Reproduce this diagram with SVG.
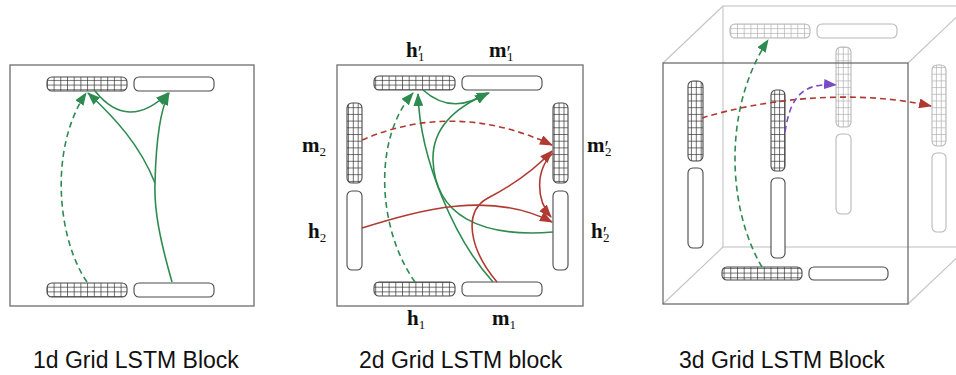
<svg xmlns="http://www.w3.org/2000/svg" width="956" height="375" viewBox="0 0 956 375">
<style>
.box{fill:none;stroke:#6e6e6e;stroke-width:1.3}
.bar{stroke:#4a4a4a;stroke-width:1.1}
.plain{fill:#fff}
.lbar{stroke:#b8b8b8;stroke-width:1.1}
.back{fill:none;stroke:#c4c4c4;stroke-width:1.1}
.g{fill:none;stroke:#2e8b50;stroke-width:1.6}
.r{fill:none;stroke:#b03a32;stroke-width:1.6}
.p{fill:none;stroke:#7a4cc4;stroke-width:1.6}
.d{stroke-dasharray:6,4}
.title{font-family:"Liberation Sans",Arial,sans-serif;font-size:23px;fill:#111}
.math{font-family:"Liberation Serif","Times New Roman",serif;font-weight:bold;font-size:21px;fill:#111}
.sub{font-weight:normal;font-size:13px}
.pr{font-weight:normal;font-size:20px}
</style>
<defs>
<pattern id="hh" patternUnits="userSpaceOnUse" width="6.7" height="4.7"><path d="M0.5 0V4.7M0 0.5H6.7" stroke="#333" stroke-width="0.7" fill="none"/></pattern>
<pattern id="hv" patternUnits="userSpaceOnUse" width="4.9" height="6.7"><path d="M0.5 0V6.7M0 0.5H4.9" stroke="#333" stroke-width="0.7" fill="none"/></pattern>
<pattern id="hhl" patternUnits="userSpaceOnUse" width="6.7" height="4.7"><path d="M0.5 0V4.7M0 0.5H6.7" stroke="#b0b0b0" stroke-width="0.7" fill="none"/></pattern>
<pattern id="hvl" patternUnits="userSpaceOnUse" width="4.9" height="6.7"><path d="M0.5 0V6.7M0 0.5H4.9" stroke="#b0b0b0" stroke-width="0.7" fill="none"/></pattern>
<marker id="ag" markerUnits="userSpaceOnUse" markerWidth="13" markerHeight="10" refX="12" refY="5" orient="auto"><path d="M0,0L13,5L0,10z" fill="#2e8b50"/></marker>
<marker id="ar" markerUnits="userSpaceOnUse" markerWidth="13" markerHeight="10" refX="12" refY="5" orient="auto"><path d="M0,0L13,5L0,10z" fill="#b03a32"/></marker>
<marker id="ap" markerUnits="userSpaceOnUse" markerWidth="13" markerHeight="10" refX="12" refY="5" orient="auto"><path d="M0,0L13,5L0,10z" fill="#7a4cc4"/></marker>
</defs>
<rect width="956" height="375" fill="#fff"/>

<!-- Panel 1 -->
<g id="panel1">
<rect class="box" x="10" y="65" width="244" height="241"/>
<g id="p1-h-out"><rect class="bar" x="47" y="77" width="80" height="14" rx="5" fill="url(#hh)"/></g>
<g id="p1-m-out"><rect class="bar plain" x="134" y="77" width="80" height="14" rx="5"/></g>
<g id="p1-h-in"><rect class="bar" x="47" y="283" width="80" height="14" rx="5" fill="url(#hh)"/></g>
<g id="p1-m-in"><rect class="bar plain" x="134" y="283" width="80" height="14" rx="5"/></g>
</g>
<g id="p1-connectors">
<path class="g d" d="M87,282 C58,240 48,150 86,93" marker-end="url(#ag)"/>
<path class="g" d="M172,282 C160,240 154,210 155,183 C156,140 160,110 169,93" marker-end="url(#ag)"/>
<path class="g" d="M155,183 C140,145 115,118 88,93" marker-end="url(#ag)"/>
<path class="g" d="M95,91 Q128,132 168,93" marker-end="url(#ag)"/>
</g>

<!-- Panel 2 -->
<g id="panel2">
<rect class="box" x="337" y="65" width="246" height="241"/>
<g id="p2-h1-out"><rect class="bar" x="374" y="76" width="81" height="14" rx="5" fill="url(#hh)"/></g>
<g id="p2-m1-out"><rect class="bar plain" x="462" y="76" width="80" height="14" rx="5"/></g>
<g id="p2-h1-in"><rect class="bar" x="374" y="282" width="81" height="14" rx="5" fill="url(#hh)"/></g>
<g id="p2-m1-in"><rect class="bar plain" x="462" y="282" width="80" height="14" rx="5"/></g>
<g id="p2-m2-in"><rect class="bar" x="347" y="103" width="15" height="80" rx="5" fill="url(#hv)"/></g>
<g id="p2-h2-in"><rect class="bar plain" x="347" y="191" width="15" height="79" rx="5"/></g>
<g id="p2-m2-out"><rect class="bar" x="553" y="103" width="15" height="80" rx="5" fill="url(#hv)"/></g>
<g id="p2-h2-out"><rect class="bar plain" x="553" y="191" width="15" height="79" rx="5"/></g>
<g id="lbl-h1p"><text class="math" x="406" y="57">h<tspan class="pr" dy="3">′</tspan><tspan class="sub" x="418" y="61">1</tspan></text></g>
<g id="lbl-m1p"><text class="math" x="489" y="57">m<tspan class="pr" dy="3">′</tspan><tspan class="sub" x="507" y="61">1</tspan></text></g>
<g id="lbl-m2"><text class="math" x="302" y="152">m<tspan class="sub" dy="4">2</tspan></text></g>
<g id="lbl-m2p"><text class="math" x="587" y="152">m<tspan class="pr" dy="3">′</tspan><tspan class="sub" x="605" y="156">2</tspan></text></g>
<g id="lbl-h2"><text class="math" x="308" y="238">h<tspan class="sub" dy="4">2</tspan></text></g>
<g id="lbl-h2p"><text class="math" x="591" y="238">h<tspan class="pr" dy="3">′</tspan><tspan class="sub" x="603" y="242">2</tspan></text></g>
<g id="lbl-h1"><text class="math" x="407" y="325">h<tspan class="sub" dy="4">1</tspan></text></g>
<g id="lbl-m1"><text class="math" x="492" y="325">m<tspan class="sub" dy="4">1</tspan></text></g>
</g>
<g id="p2-connectors">
<path class="g d" d="M415,282 C378,230 372,140 413,93" marker-end="url(#ag)"/>
<path class="g" d="M493,282 C455,240 420,160 418,94" marker-end="url(#ag)"/>
<path class="g" d="M553,232 C480,238 435,215 433,160 C432,125 460,105 489,93" marker-end="url(#ag)"/>
<path class="g" d="M423,90 Q452,116 487,93" marker-end="url(#ag)"/>
<path class="r d" d="M362,140 Q455,100 552,145" marker-end="url(#ar)"/>
<path class="r" d="M362,228 C420,210 490,190 552,222" marker-end="url(#ar)"/>
<path class="r" d="M497,282 C470,250 462,212 488,198 C515,184 538,166 552,151" marker-end="url(#ar)"/>
<path class="r" d="M553,153 C535,170 536,200 551,217" marker-end="url(#ar)"/>
</g>

<!-- Panel 3 -->
<g id="panel3">
<rect class="back" x="723" y="6" width="245" height="241"/>
<line class="back" x1="663" y1="63" x2="723" y2="6"/>
<line class="back" x1="663" y1="304" x2="723" y2="247"/>
<line class="back" x1="908" y1="63" x2="968" y2="6"/>
<line class="back" x1="908" y1="304" x2="968" y2="247"/>
<g id="p3-back-h"><rect class="lbar" x="730" y="24" width="80" height="14" rx="5" fill="url(#hhl)"/></g>
<g id="p3-back-m"><rect class="lbar plain" x="817" y="24" width="80" height="14" rx="5"/></g>
<g id="p3-mid-h"><rect class="lbar" x="836" y="47" width="15" height="80" rx="5" fill="url(#hvl)"/></g>
<g id="p3-mid-m"><rect class="lbar plain" x="836" y="134" width="15" height="80" rx="5"/></g>
<g id="p3-far-h"><rect class="lbar" x="932" y="65" width="14" height="81" rx="5" fill="url(#hvl)"/></g>
<g id="p3-far-m"><rect class="lbar plain" x="932" y="153" width="14" height="79" rx="5"/></g>
<rect class="box" x="663" y="63" width="245" height="241"/>
<g id="p3-left-h"><rect class="bar" x="688" y="81" width="15" height="80" rx="5" fill="url(#hv)"/></g>
<g id="p3-left-m"><rect class="bar plain" x="688" y="168" width="15" height="80" rx="5"/></g>
<g id="p3-ctr-h"><rect class="bar" x="771" y="90" width="14" height="81" rx="5" fill="url(#hv)"/></g>
<g id="p3-ctr-m"><rect class="bar plain" x="771" y="178" width="14" height="80" rx="5"/></g>
<g id="p3-bot-h"><rect class="bar" x="722" y="267" width="80" height="13" rx="5" fill="url(#hh)"/></g>
<g id="p3-bot-m"><rect class="bar plain" x="809" y="267" width="79" height="13" rx="5"/></g>
</g>
<g id="p3-connectors">
<path class="g d" d="M762,267 C728,210 722,110 768,40" marker-end="url(#ag)"/>
<path class="r d" d="M702,118 C760,100 850,88 931,106" marker-end="url(#ar)"/>
<path class="p d" d="M785,132 C790,100 800,82 836,85" marker-end="url(#ap)"/>
</g>

<g id="titles">
<text class="title" x="33" y="368">1d Grid LSTM Block</text>
<text class="title" x="359" y="368">2d Grid LSTM block</text>
<text class="title" x="679" y="368">3d Grid LSTM Block</text>
</g>
</svg>
